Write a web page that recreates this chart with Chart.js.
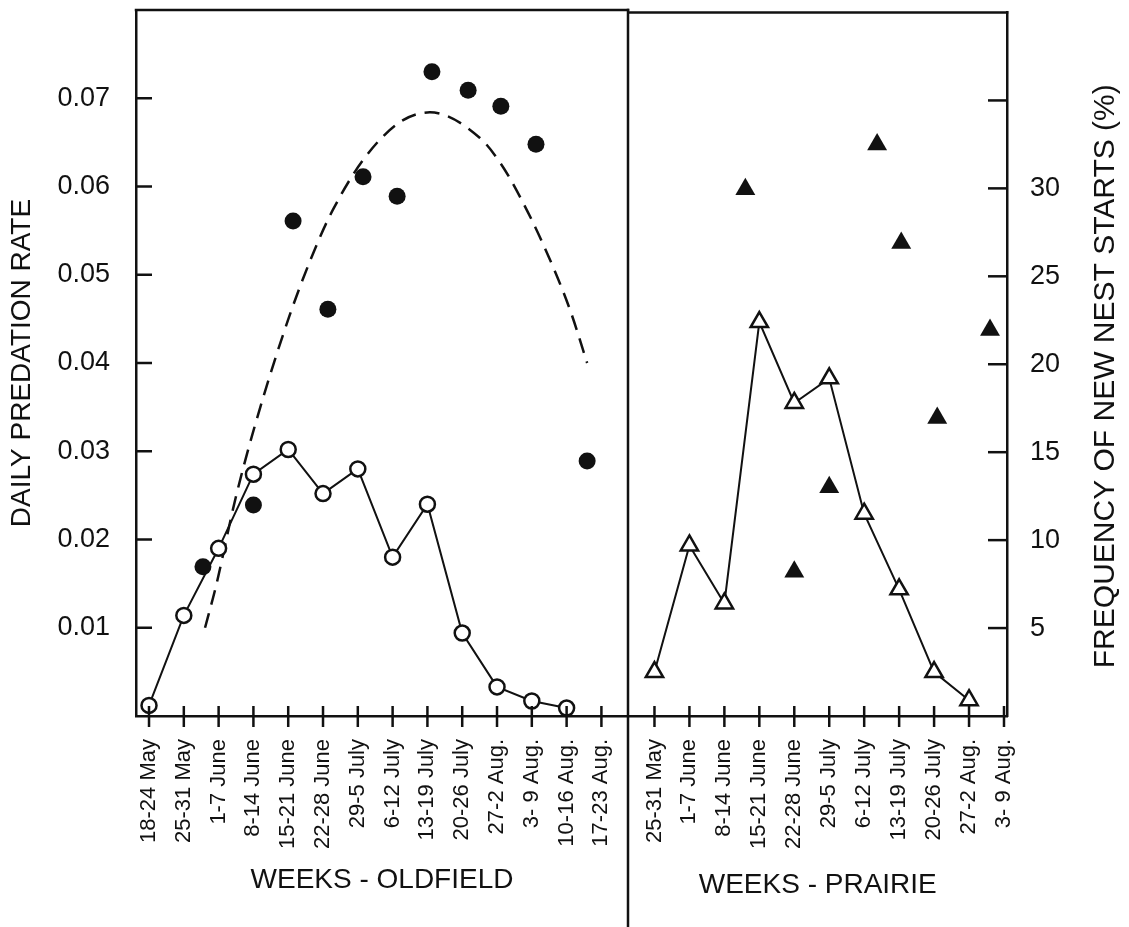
<!DOCTYPE html>
<html><head><meta charset="utf-8">
<script src="https://cdn.jsdelivr.net/npm/chart.js@4.4.1/dist/chart.umd.min.js"></script>
<style>
html,body{margin:0;padding:0;background:#fff;}
#wrap{position:relative;width:1129px;height:927px;overflow:hidden;background:#fff;}
canvas{position:absolute;top:0;}
#cL{left:0;}
#cR{left:616px;}
</style></head><body>
<div id="wrap"><canvas id="cL" width="640" height="927"></canvas><canvas id="cR" width="513" height="927"></canvas></div>
<script>
// ---- data ----
const weeksOldfield = ["18-24 May","25-31 May","1-7 June","8-14 June","15-21 June","22-28 June","29-5 July","6-12 July","13-19 July","20-26 July","27-2 Aug.","3- 9 Aug.","10-16 Aug.","17-23 Aug."];
const weeksPrairie = ["25-31 May","1-7 June","8-14 June","15-21 June","22-28 June","29-5 July","6-12 July","13-19 July","20-26 July","27-2 Aug.","3- 9 Aug."];

// frequency of new nest starts (%), open markers
const nestStartsOldfield = [0.6, 5.7, 9.5, 13.7, 15.1, 12.6, 14.0, 9.0, 12.0, 4.7, 1.65, 0.85, 0.45];
const nestStartsPrairie = [2.5, 9.7, 6.4, 22.4, 17.8, 19.2, 11.5, 7.2, 2.5, 0.9];

// daily predation rate, filled markers (x = week position)
const predOldX = [1.55, 3.0, 4.14, 5.14, 6.15, 7.13, 8.13, 9.17, 10.11, 11.12, 12.59];
const predOldY = [0.0169, 0.0239, 0.0561, 0.0461, 0.0611, 0.0589, 0.0730, 0.0709, 0.0691, 0.0648, 0.0289];
const predPrairieX = [2.6, 4.0, 5.0, 6.37, 7.06, 8.09, 9.6];
const predPrairieY = [0.0599, 0.0164, 0.0260, 0.0650, 0.0538, 0.0339, 0.0439];

// dashed fitted curve (oldfield predation)
const fitX = [1.61, 1.93, 2.47, 3.05, 4.05, 4.83, 5.29, 6.15, 7.21, 8.07, 9.51, 10.09, 10.57, 11.32, 12.10, 12.59];
const fitY = [0.0100, 0.0148, 0.0244, 0.0330, 0.0455, 0.0535, 0.0574, 0.0630, 0.0673, 0.0684, 0.0655, 0.0627, 0.0595, 0.0535, 0.0460, 0.0400];

// tick values
const rateTicks = [0.01, 0.02, 0.03, 0.04, 0.05, 0.06, 0.07];
const freqTicks = [5, 10, 15, 20, 25, 30, 35];
const freqTickLabels = ["5","10","15","20","25","30",""];

// ---- style ----
const INK = '#111';
const LW = 2.5;
const FONT = '"Liberation Sans", Arial, Helvetica, sans-serif';
Chart.defaults.font.family = FONT;
Chart.defaults.color = INK;

function line(ctx, x1, y1, x2, y2){ ctx.beginPath(); ctx.moveTo(x1,y1); ctx.lineTo(x2,y2); ctx.stroke(); }

const leftFrame = {
  id: 'leftFrame',
  afterDatasetsDraw(chart){
    const {ctx, chartArea: a, scales} = chart;
    ctx.save();
    ctx.strokeStyle = INK; ctx.lineWidth = LW; ctx.lineCap = 'square';
    line(ctx, a.left, a.top, a.right, a.top);
    line(ctx, a.right, a.top, a.right, chart.height);
    ctx.lineCap = 'butt';
    scales.y.ticks.forEach(t => { const p = scales.y.getPixelForValue(t.value); line(ctx, a.left, p, a.left + 16, p); });
    scales.x.ticks.forEach(t => { const p = scales.x.getPixelForValue(t.value); line(ctx, p, a.bottom - 10, p, a.bottom + 11); });
    ctx.restore();
  }
};
const rightFrame = {
  id: 'rightFrame',
  afterDatasetsDraw(chart){
    const {ctx, chartArea: a, scales} = chart;
    ctx.save();
    ctx.strokeStyle = INK; ctx.lineWidth = LW; ctx.lineCap = 'square';
    line(ctx, a.left, a.top, a.right, a.top);
    ctx.lineCap = 'butt';
    scales.y2.ticks.forEach(t => { const p = scales.y2.getPixelForValue(t.value); line(ctx, a.right - 19, p, a.right, p); });
    scales.x.ticks.forEach(t => { const p = scales.x.getPixelForValue(t.value); line(ctx, p, a.bottom - 10, p, a.bottom + 11); });
    // right axis title, reading bottom to top
    ctx.fillStyle = INK;
    ctx.font = '30px ' + FONT;
    ctx.textAlign = 'center'; ctx.textBaseline = 'middle';
    ctx.translate(a.right + 99, (a.top + a.bottom) / 2 + 12);
    ctx.rotate(-Math.PI / 2);
    ctx.fillText('FREQUENCY OF NEW NEST STARTS (%)', 0, 0);
    ctx.restore();
  }
};

const border = {display: true, color: INK, width: LW};

new Chart(document.getElementById('cL'), {
  type: 'line',
  data: { datasets: [
    { label: 'Daily predation rate (oldfield)', data: predOldX.map((x, i) => ({x, y: predOldY[i]})), yAxisID: 'y',
      showLine: false, pointRadius: 8.5, pointBackgroundColor: INK, pointBorderColor: INK, pointBorderWidth: 0, clip: false },
    { label: 'New nest starts (oldfield)', data: nestStartsOldfield.map((v, i) => ({x: i, y: v})), yAxisID: 'y2',
      borderColor: INK, borderWidth: 2, pointRadius: 7.5, pointBackgroundColor: '#fff', pointBorderColor: INK, pointBorderWidth: 2.5, tension: 0, clip: false },
    { label: 'Fitted curve', data: fitX.map((x, i) => ({x, y: fitY[i]})), yAxisID: 'y',
      borderColor: INK, borderWidth: 2.5, borderDash: [15, 9], pointRadius: 0, cubicInterpolationMode: 'monotone', fill: false }
  ]},
  options: {
    responsive: false, animation: false, devicePixelRatio: 1,
    layout: { padding: {top: 10, right: 12, left: 0, bottom: 0} },
    plugins: { legend: {display: false}, tooltip: {enabled: false} },
    scales: {
      x: { type: 'linear', min: -0.374, max: 13.764, grid: {display: false}, border,
        afterBuildTicks: s => { s.ticks = weeksOldfield.map((_, i) => ({value: i})); },
        afterFit: s => { s.height = 211; s.paddingLeft = 0; s.paddingRight = 0; },
        ticks: { autoSkip: false, maxRotation: 90, minRotation: 90, padding: 15, color: INK, font: {size: 22},
          callback: v => weeksOldfield[v] },
        title: { display: true, text: 'WEEKS - OLDFIELD', color: INK, font: {size: 28}, padding: {top: 0, bottom: 30} } },
      y: { type: 'linear', position: 'left', min: 0, max: 0.08, grid: {display: false}, border,
        afterBuildTicks: s => { s.ticks = rateTicks.map(v => ({value: v})); },
        afterFit: s => { s.width = 136; s.paddingTop = 0; s.paddingBottom = 0; },
        ticks: { autoSkip: false, padding: 18, color: INK, font: {size: 27}, callback: v => v.toFixed(2) },
        title: { display: true, text: 'DAILY PREDATION RATE', color: INK, font: {size: 28}, padding: {top: 5, bottom: 0} } },
      y2: { type: 'linear', display: false, min: 0, max: 40 }
    }
  },
  plugins: [leftFrame]
});

new Chart(document.getElementById('cR'), {
  type: 'line',
  data: { datasets: [
    { label: 'Daily predation rate (prairie)', data: predPrairieX.map((x, i) => ({x, y: predPrairieY[i]})), yAxisID: 'y',
      showLine: false, pointStyle: 'triangle', pointRadius: 11.5, pointBackgroundColor: INK, pointBorderColor: INK, pointBorderWidth: 0, clip: false },
    { label: 'New nest starts (prairie)', data: nestStartsPrairie.map((v, i) => ({x: i, y: v})), yAxisID: 'y2',
      borderColor: INK, borderWidth: 2, pointStyle: 'triangle', pointRadius: 10, pointBackgroundColor: '#fff', pointBorderColor: INK, pointBorderWidth: 2.5, tension: 0, clip: false }
  ]},
  options: {
    responsive: false, animation: false, devicePixelRatio: 1,
    layout: { padding: {top: 10, right: 0, left: 12, bottom: 0} },
    plugins: { legend: {display: false}, tooltip: {enabled: false} },
    scales: {
      x: { type: 'linear', min: -0.743, max: 10.086, grid: {display: false}, border,
        afterBuildTicks: s => { s.ticks = weeksPrairie.map((_, i) => ({value: i})); },
        afterFit: s => { s.height = 211; s.paddingLeft = 0; s.paddingRight = 0; },
        ticks: { autoSkip: false, maxRotation: 90, minRotation: 90, padding: 15, color: INK, font: {size: 22},
          callback: v => weeksPrairie[v] },
        title: { display: true, text: 'WEEKS - PRAIRIE', color: INK, font: {size: 28}, padding: {top: 0, bottom: 25} } },
      y: { type: 'linear', display: false, min: 0, max: 0.08 },
      y2: { type: 'linear', position: 'right', min: 0, max: 40, grid: {display: false}, border,
        afterBuildTicks: s => { s.ticks = freqTicks.map(v => ({value: v})); },
        afterFit: s => { s.width = 122; s.paddingTop = 0; s.paddingBottom = 0; },
        ticks: { autoSkip: false, padding: 15, color: INK, font: {size: 27},
          callback: (v) => freqTickLabels[freqTicks.indexOf(v)] } }
    }
  },
  plugins: [rightFrame]
});
</script>
</body></html>
